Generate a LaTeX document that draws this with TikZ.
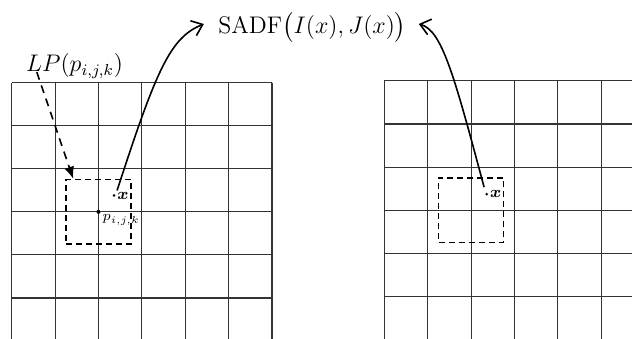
\documentclass[tikz,border=0pt]{standalone}
\usepackage{amsmath,amssymb,bm}
\usetikzlibrary{positioning,arrows.meta,calc}

\tikzset{
  gridline/.style={black!80,line width=0.55pt},
  window/.style={draw,line width=0.8pt,dash pattern=on 3pt off 2pt,
    minimum width=32.5pt,minimum height=32.3pt,inner sep=0pt},
  pixdot/.style={circle,fill,inner sep=0pt,minimum size=1.4pt},
  curvearrow/.style={line width=0.8pt,-{Straight Barb[length=5pt,width=8pt]}},
  lparrow/.style={line width=0.8pt,dash pattern=on 4pt off 3pt,
    -{Latex[length=6pt,width=5pt]}},
}

\begin{document}
\begin{tikzpicture}[x=21.69pt,y=21.53pt]
\clip (-0.27,1.92) rectangle (14.30,-5.93);
% left image
\foreach \i in {0,...,6}{\draw[gridline] (\i,0) -- (\i,-6);}
\foreach \j in {0,...,5}{\draw[gridline] (0,-\j) -- (6,-\j);}
\node[window] (winL) at (2,-3) {};
\node[pixdot,minimum size=2pt] (p) at (2,-3) {};
\node[below right=0.5pt and 1pt of p,inner sep=0pt,font=\scriptsize] (plab) {$p_{i,j,k}$};
\node[pixdot] (xL) at (2.36,-2.62) {};
\node[right=0.6pt of xL,inner sep=0pt,font=\footnotesize] (xLlab) {$\boldsymbol{x}$};
% right image
\begin{scope}[shift={(8.59,0.04)}]
\foreach \i in {0,...,6}{\draw[gridline] (\i,0) -- (\i,-6);}
\foreach \j in {0,...,5}{\draw[gridline] (0,-\j) -- (6,-\j);}
\node[window] (winR) at (2,-3) {};
\node[pixdot] (xR) at (2.36,-2.63) {};
\node[right=0.6pt of xR,inner sep=0pt,font=\footnotesize] (xRlab) {$\boldsymbol{x}$};
\end{scope}
% labels
\node[font=\fontsize{12.5}{15}\selectfont,inner sep=0pt] (sadf) at (6.93,1.27)
  {$\mathrm{SADF}\big(I(x),J(x)\big)$};
\node[font=\large,inner sep=0pt] (lp) at (1.45,0.38) {$LP(p_{i,j,k})$};
% arrows
\draw[lparrow] ([shift={(5.5pt,3.5pt)}]lp.south west) -- ([xshift=4pt]winL.north west);
\draw[curvearrow] ([shift={(1.5pt,2.5pt)}]xL.center)
  .. controls +(72:64pt) and +(202:18pt) .. ([shift={(-7pt,2pt)}]sadf.west);
\draw[curvearrow] ([shift={(-1.3pt,3.5pt)}]xR.center)
  .. controls +(105:58pt) and +(345:12pt) .. ([shift={(6pt,2pt)}]sadf.east);
\end{tikzpicture}
\end{document}
